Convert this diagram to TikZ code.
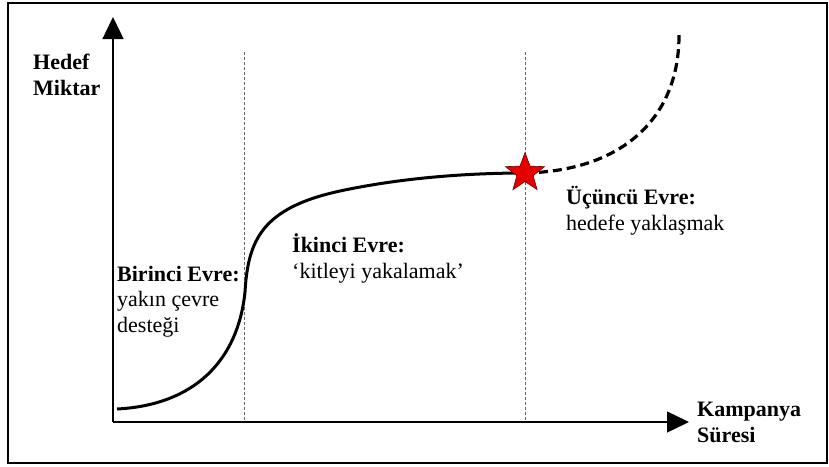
\documentclass[tikz,border=0pt]{standalone}
\usepackage{fontspec}
\setmainfont{Liberation Serif}
\usetikzlibrary{shapes.geometric, positioning, arrows.meta}

\begin{document}
\begin{tikzpicture}[
x=1pt, y=-1pt,
    axis/.style={draw, line width=1.4pt, -{Triangle[width=21pt, length=22pt]}},
    phase/.style={draw, gray!80!black, line width=0.8pt, dash pattern=on 3pt off 2pt},
    growth/.style={draw, line width=3pt},
    forecast/.style={draw, line width=3.2pt, dash pattern=on 9pt off 5pt},
    label/.style={anchor=base west, inner sep=0pt, align=left, font=\fontsize{22}{25.5}\selectfont},
    goal/.style={star, star points=5, star point ratio=2.4, minimum size=41pt, inner sep=0pt, fill=red!90!black, draw=red!45!black, line width=0.6pt}
]
    \useasboundingbox (0,0) rectangle (829,466);
    \draw[line width=1.5pt] (8,3) rectangle (827,463);

    % ================= AXES =================
    \coordinate (O) at (113,422);
    \coordinate (ytip) at (113,17);
    \coordinate (xtip) at (689,422);
    \draw[axis] (O) -- (ytip);
    \draw[axis] (O) -- (xtip);

    % labels are placed at the baseline of their last line
    \node[label] (ylab) at (33,95) {\textbf{Hedef}\\\textbf{Miktar}};
    \node[label] (xlab) at (697,442) {\textbf{Kampanya}\\\textbf{Süresi}};

    % ================= PHASE BORDERS =================
    \coordinate (p1top) at (244,52);
    \coordinate (p1bot) at (244,422);
    \coordinate (p2top) at (525,52);
    \coordinate (p2bot) at (525,422);
    \draw[phase] (p1top) -- (p1bot);
    \draw[phase] (p2top) -- (p2bot);

    % ================= CURVE =================
    \coordinate (start) at (117,409);
    \coordinate (bend) at (245,292);
    \coordinate (mid) at (340,191);
    \coordinate (plateau) at (525,173);
    \coordinate (top) at (679,33);
    \draw[growth] (start) .. controls (195,405) and (238,360) .. (bend)
        .. controls (248,240) and (262,208) .. (mid)
        .. controls (410,176) and (480,173) .. (plateau);
    \draw[forecast] (plateau) .. controls (620,171) and (680,120) .. (top);
    \node[goal] (Star) at (plateau) {};

    % ================= PHASES =================
    \node[label] (first) at (117,332) {\textbf{Birinci Evre:}\\yakın çevre\\desteği};
    \node[label] (second) at (292,278) {\textbf{İkinci Evre:}\\‘kitleyi yakalamak’};
    \node[label] (third) at (566,230) {\textbf{Üçüncü Evre:}\\hedefe yaklaşmak};

\end{tikzpicture}
\end{document}
